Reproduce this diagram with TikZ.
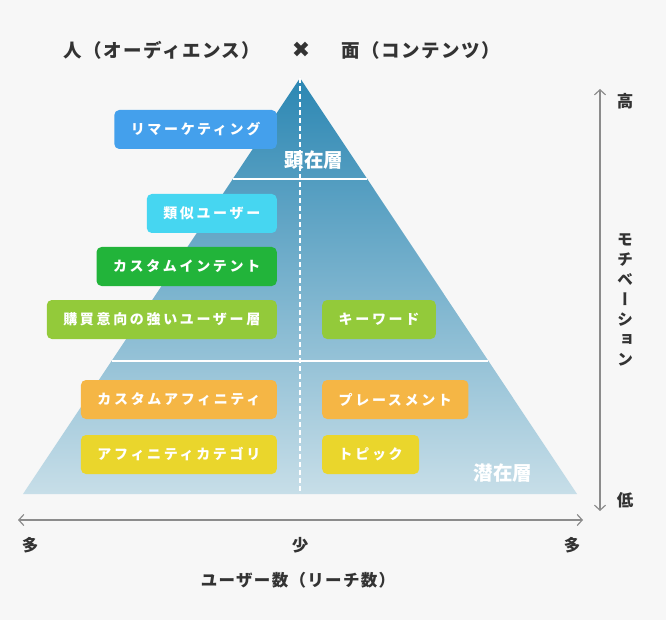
\documentclass[tikz,border=0pt]{standalone}
\usepackage{fontspec}
\setmainfont{Noto Sans CJK JP}
\newfontfamily\boxfont[LetterSpace=19]{Noto Sans CJK JP}
\newfontfamily\headfont[LetterSpace=8]{Noto Sans CJK JP}
\newfontfamily\vertfont[RawFeature=+vert]{Noto Sans CJK JP}
\newfontfamily\symfont{DejaVu Sans}
\usetikzlibrary{arrows.meta,calc}

\definecolor{bgcol}{HTML}{F7F7F7}
\definecolor{inkcol}{HTML}{333333}
\definecolor{axiscol}{HTML}{8C8C8C}
\definecolor{pyrtop}{HTML}{2C87B3}
\definecolor{pyrbot}{HTML}{C7DEE8}
\definecolor{remablue}{HTML}{44A0EC}
\definecolor{simcyan}{HTML}{46D6F1}
\definecolor{intgreen}{HTML}{22B43A}
\definecolor{kwlime}{HTML}{93CA3A}
\definecolor{affiorange}{HTML}{F5B645}
\definecolor{catyellow}{HTML}{EAD62C}

\begin{document}
\begin{tikzpicture}[
  x=1pt, y=-1pt,
  tag/.style={
    rounded corners=5pt,
    minimum height=39pt,
    inner xsep=16.5pt,
    text=white,
    font=\boxfont\bfseries\fontsize{14}{16}\selectfont
  },
  lefttag/.style={tag, anchor=east},
  righttag/.style={tag, anchor=west},
  tier/.style={font=\bfseries\fontsize{19.5}{22}\selectfont, text=white},
  head/.style={font=\headfont\bfseries\fontsize{18.5}{20}\selectfont, text=inkcol},
  axislbl/.style={font=\headfont\bfseries\fontsize{16.5}{18}\selectfont, text=inkcol},
  axis/.style={draw=axiscol, line width=1.2pt,
    {Straight Barb[length=5pt,width=11pt]}-{Straight Barb[length=5pt,width=11pt]}},
]

\fill[bgcol] (0,0) rectangle (666,620);
\useasboundingbox (0,0) rectangle (666,620);

% Title.
\node[head] (aud) at (162,50) {人（オーディエンス）};
\node[head] (times) at (301,50) {\symfont\fontsize{22}{22}\selectfont ✖};
\node[head] (cont) at (421,50) {面（コンテンツ）};

% Pyramid.
\coordinate (apex) at (300,78);
\coordinate (bl) at (23,494);
\coordinate (br) at (577,494);
\coordinate (mid) at (300,494);
\shade[top color=pyrtop, bottom color=pyrbot] (apex) -- (bl) -- (br) -- cycle;
\draw[white, line width=2pt] ($(apex)!0.2428!(bl)$) -- ($(apex)!0.2428!(br)$);
\draw[white, line width=2pt] ($(apex)!0.6803!(bl)$) -- ($(apex)!0.6803!(br)$);
\draw[white, line width=1.6pt, dash pattern=on 5pt off 3pt] (apex) -- (mid);

\node[tier] (upper) at (314,160) {顕在層};
\node[tier] (lower) at (503,473) {潜在層};

% Targeting tags.
\node[lefttag, fill=remablue] (rema) at (277,129.5) {リマーケティング};
\node[lefttag, fill=simcyan] (similar) at (277,213.5) {類似ユーザー};
\node[lefttag, fill=intgreen] (intent) at (277,266.5) {カスタムインテント};
\node[lefttag, fill=kwlime] (inmarket) at (277,319.5) {購買意向の強いユーザー層};
\node[righttag, fill=kwlime] (keyword) at (322,319.5) {キーワード};
\node[lefttag, fill=affiorange] (affinity) at (277,399.5) {カスタムアフィニティ};
\node[righttag, fill=affiorange] (placement) at (322,399.5) {プレースメント};
\node[lefttag, fill=catyellow] (category) at (277,454.5) {アフィニティカテゴリ};
\node[righttag, fill=catyellow] (topic) at (322,454.5) {トピック};

% Motivation axis.
\coordinate (mtop) at (600,89);
\coordinate (mbot) at (600,511);
\draw[axis] (mbot) -- (mtop);
\node[axislbl] (high) at (625,101) {高};
\node[axislbl] (low) at (625,500) {低};
\node[axislbl, align=center, font=\vertfont\bfseries\fontsize{16}{20}\selectfont]
  (motiv) at (625,300) {モ\\チ\\ベ\\ー\\シ\\ョ\\ン};

% Reach axis.
\coordinate (rleft) at (18,520);
\coordinate (rright) at (583,520);
\draw[axis] (rleft) -- (rright);
\node[axislbl] (manyl) at (30,545) {多};
\node[axislbl] (few) at (300,545) {少};
\node[axislbl] (manyr) at (572,545) {多};
\node[axislbl] (reach) at (298,580) {ユーザー数（リーチ数）};

\end{tikzpicture}
\end{document}
